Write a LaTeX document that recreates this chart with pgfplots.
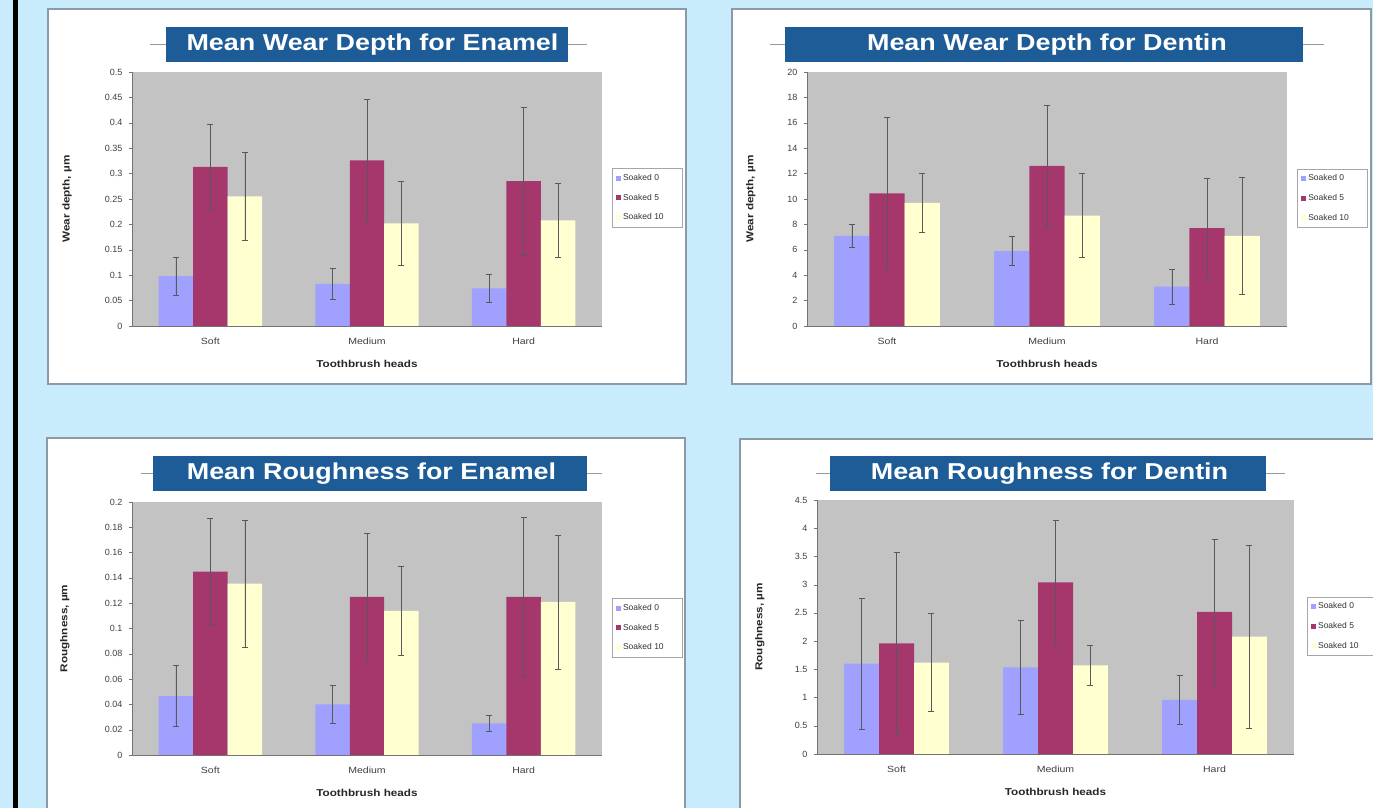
\documentclass[border=0pt]{standalone}
\usepackage{pgfplots}
\pgfplotsset{compat=1.18}
\usepackage{fontspec}
\setmainfont{Liberation Sans}
\usepackage{graphicx}
\definecolor{bgblue}{HTML}{C8ECFB}
\definecolor{bannerblue}{HTML}{1D5C97}
\definecolor{plotgray}{HTML}{C3C3C3}
\definecolor{cblue}{HTML}{A0A0FF}
\definecolor{cmaroon}{HTML}{A6376C}
\definecolor{cyellow}{HTML}{FFFFCF}
\definecolor{framegray}{HTML}{8C9AA6}

\newcommand{\st}[1]{\scalebox{1.17}[1]{#1}}

\pgfplotsset{
  panel/.style={
    scale only axis,
    ybar=0pt, bar width=0.22,
    xmin=-0.5, xmax=2.5, ymin=0,
    xtick={0,1,2}, xticklabels={\st{Soft},\st{Medium},\st{Hard}},
    axis background/.style={fill=plotgray},
    axis x line*=bottom, axis y line*=left,
    axis line style={black!55, line width=0.8pt},
    tick align=outside, major tick length=3pt,
    tick style={black!55},
    x tick style={draw=none},
    tick label style={font=\fontsize{9}{10}\selectfont, text=black!75},
    xticklabel style={yshift=-5pt},
    yticklabel style={xshift=-3pt, /pgf/number format/fixed, /pgf/number format/precision=2},
    /pgf/number format/assume math mode=true,
    scaled y ticks=false,
    label style={font=\bfseries\fontsize{10}{11}\selectfont, text=black!85},
    xlabel={\st{Toothbrush heads}},
    xlabel style={at={(axis description cs:0.5,-0.15)}, anchor=center},
    legend style={draw=black!35, fill=white, font=\fontsize{8.5}{9}\selectfont,
      text=black!80, anchor=north west, inner xsep=4pt, inner ysep=4pt, row sep=8pt},
    legend cell align=left,
  },
  errs/.style={/pgfplots/error bars/.cd, y dir=both, y explicit,
    error bar style={black!65, line width=0.6pt},
    error mark options={rotate=90, mark size=3pt, black!65, line width=0.6pt}},
  bar0/.style={fill=cblue, draw=none,
    legend image code/.code={\fill[fill=cblue] (0pt,-2.5pt) rectangle (5pt,2.5pt);}, errs},
  bar1/.style={fill=cmaroon, draw=none,
    legend image code/.code={\fill[fill=cmaroon] (0pt,-2.5pt) rectangle (5pt,2.5pt);}, errs},
  bar2/.style={fill=cyellow, draw=none,
    legend image code/.code={\fill[fill=cyellow] (0pt,-2.5pt) rectangle (5pt,2.5pt);}, errs},
}

\newcommand{\banner}[6]{%
  \draw[black!40, line width=1pt] (#5pt,{(#3+#4)/2*1pt}) -- (#6pt,{(#3+#4)/2*1pt});
  \fill[bannerblue] (#1pt,#3pt) rectangle (#2pt,#4pt);
}

\begin{document}
\begin{tikzpicture}
\fill[bgblue] (0pt,0pt) rectangle (1373pt,808pt);
\useasboundingbox (0pt,0pt) rectangle (1373pt,808pt);
\fill[black] (13pt,0pt) rectangle (18pt,808pt);
% panels
\filldraw[fill=white, draw=framegray, line width=1.5pt] (48pt,799pt) rectangle (686pt,424pt);
\filldraw[fill=white, draw=framegray, line width=1.5pt] (732pt,799pt) rectangle (1371pt,424pt);
\filldraw[fill=white, draw=framegray, line width=1.5pt] (47pt,370pt) rectangle (685pt,-5pt);
\filldraw[fill=white, draw=framegray, line width=1.5pt] (740pt,369pt) rectangle (1378pt,-5pt);
% banners
\banner{166}{568}{781}{746}{150}{587}
\banner{785}{1303}{781}{746}{770}{1324}
\banner{153}{587}{352}{317}{141}{602}
\banner{830}{1266}{352}{317}{816}{1285}
\tikzset{btext/.style={text=white, font=\bfseries\fontsize{23}{26}\selectfont, inner sep=0pt, anchor=center}}
\node[btext] at (372.5pt,763.5pt) {\st{Mean Wear Depth for Enamel}};
\node[btext] at (1047pt,763.5pt) {\st{Mean Wear Depth for Dentin}};
\node[btext] at (371.5pt,334.5pt) {\st{Mean Roughness for Enamel}};
\node[btext] at (1049.5pt,334.5pt) {\st{Mean Roughness for Dentin}};

% Panel 1: enamel wear depth
\begin{axis}[panel, at={(132pt,482pt)}, anchor=south west, width=470pt, height=254pt,
  ymax=0.5, ytick distance=0.05,
  ylabel={\st{Wear depth, µm}}, ylabel style={at={(axis description cs:-0.138,0.5)}, anchor=center},
  legend style={at={(1.021,0.622)}}]
\addplot[bar0] coordinates {(0,0.098) +- (0,0.038) (1,0.083) +- (0,0.030) (2,0.074) +- (0,0.028)};
\addplot[bar1] coordinates {(0,0.313) +- (0,0.085) (1,0.326) +- (0,0.121) (2,0.285) +- (0,0.146)};
\addplot[bar2] coordinates {(0,0.255) +- (0,0.087) (1,0.202) +- (0,0.082) (2,0.208) +- (0,0.072)};
\legend{Soaked 0\hspace*{12pt}, Soaked 5\hspace*{12pt}, Soaked 10\hspace*{12pt}}
\end{axis}

% Panel 2: dentin wear depth
\begin{axis}[panel, at={(807pt,482pt)}, anchor=south west, width=480pt, height=254pt,
  ymax=20, ytick distance=2,
  ylabel={\st{Wear depth, µm}}, ylabel style={at={(axis description cs:-0.117,0.5)}, anchor=center},
  legend style={at={(1.021,0.62)}}]
\addplot[bar0] coordinates {(0,7.1) +- (0,0.9) (1,5.9) +- (0,1.15) (2,3.1) +- (0,1.4)};
\addplot[bar1] coordinates {(0,10.45) +- (0,6.0) (1,12.6) +- (0,4.8) (2,7.7) +- (0,3.95)};
\addplot[bar2] coordinates {(0,9.7) +- (0,2.35) (1,8.7) +- (0,3.3) (2,7.1) +- (0,4.6)};
\legend{Soaked 0\hspace*{12pt}, Soaked 5\hspace*{12pt}, Soaked 10\hspace*{12pt}}
\end{axis}

% Panel 3: enamel roughness
\begin{axis}[panel, at={(132pt,53pt)}, anchor=south west, width=470pt, height=253pt,
  ymax=0.2, ytick distance=0.02,
  ylabel={\st{Roughness, µm}}, ylabel style={at={(axis description cs:-0.143,0.5)}, anchor=center},
  legend style={at={(1.021,0.62)}}]
\addplot[bar0] coordinates {(0,0.0466) +- (0,0.024) (1,0.040) +- (0,0.015) (2,0.025) +- (0,0.006)};
\addplot[bar1] coordinates {(0,0.145) +- (0,0.042) (1,0.125) +- (0,0.050) (2,0.125) +- (0,0.063)};
\addplot[bar2] coordinates {(0,0.1355) +- (0,0.050) (1,0.114) +- (0,0.035) (2,0.121) +- (0,0.053)};
\legend{Soaked 0\hspace*{12pt}, Soaked 5\hspace*{12pt}, Soaked 10\hspace*{12pt}}
\end{axis}

% Panel 4: dentin roughness
\begin{axis}[panel, at={(817pt,54pt)}, anchor=south west, width=477pt, height=254pt,
  ymax=4.5, ytick distance=0.5,
  ylabel={\st{Roughness, µm}}, ylabel style={at={(axis description cs:-0.12,0.5)}, anchor=center},
  legend style={at={(1.027,0.62)}}]
\addplot[bar0] coordinates {(0,1.6) +- (0,1.16) (1,1.535) +- (0,0.84) (2,0.96) +- (0,0.44)};
\addplot[bar1] coordinates {(0,1.96) +- (0,1.62) (1,3.04) +- (0,1.1) (2,2.52) +- (0,1.28)};
\addplot[bar2] coordinates {(0,1.62) +- (0,0.87) (1,1.57) +- (0,0.36) (2,2.08) +- (0,1.62)};
\legend{Soaked 0\hspace*{12pt}, Soaked 5\hspace*{12pt}, Soaked 10\hspace*{12pt}}
\end{axis}
\end{tikzpicture}
\end{document}
